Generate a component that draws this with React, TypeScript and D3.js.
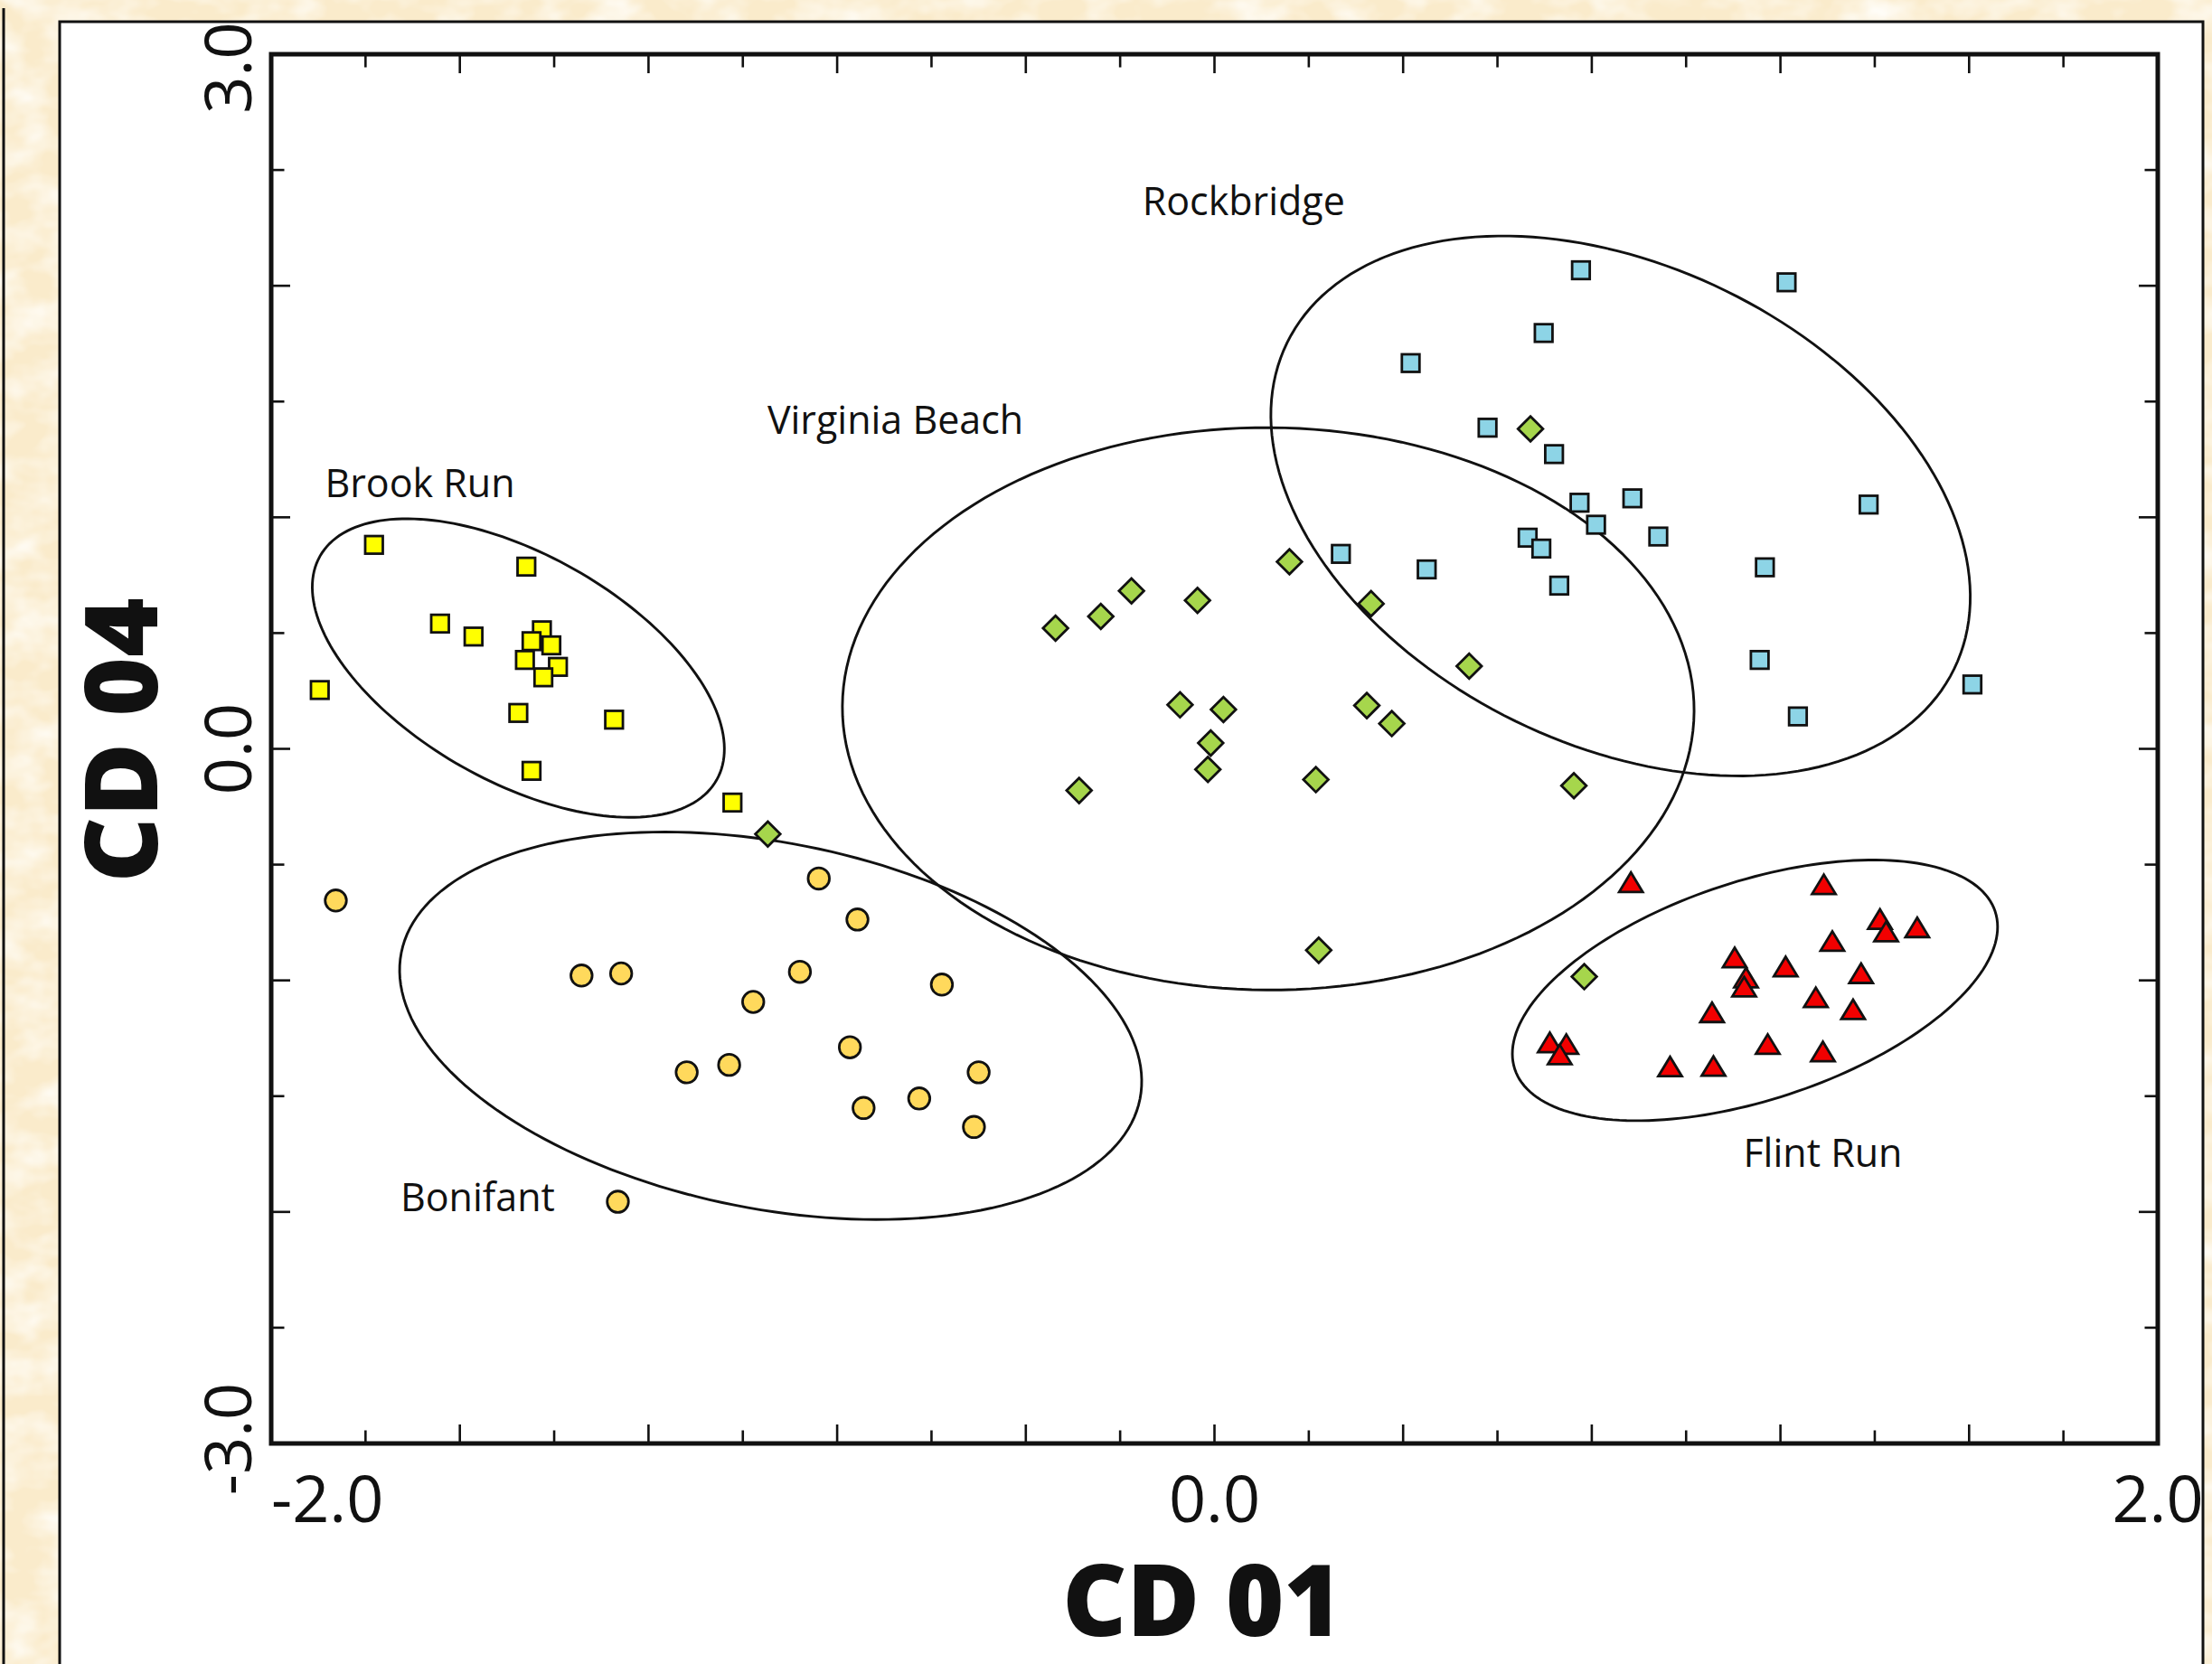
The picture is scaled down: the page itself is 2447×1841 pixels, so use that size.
import React from 'react';
import * as d3 from 'd3';

const W = 2447;
const H = 1841;

// Discriminant function scores [CD 01, CD 04] for each site
const brookRun: [number, number][] = [
  [-1.782, 0.881], [-1.459, 0.787], [-1.642, 0.541], [-1.571, 0.485],
  [-1.426, 0.512], [-1.448, 0.465], [-1.406, 0.447], [-1.462, 0.384],
  [-1.392, 0.354], [-1.423, 0.309], [-1.897, 0.254], [-1.476, 0.155],
  [-1.273, 0.126], [-1.448, -0.095], [-1.022, -0.232],
];

const bonifant: [number, number][] = [
  [-1.863, -0.655], [-0.839, -0.560], [-0.757, -0.737], [-1.342, -0.979],
  [-1.258, -0.970], [-0.879, -0.963], [-0.978, -1.093], [-0.578, -1.018],
  [-0.773, -1.289], [-1.119, -1.397], [-1.029, -1.365], [-0.500, -1.397],
  [-0.626, -1.510], [-0.744, -1.551], [-0.510, -1.633], [-1.265, -1.956],
];

const virginiaBeach: [number, number][] = [
  [0.670, 1.382], [0.159, 0.808], [0.332, 0.627], [0.540, 0.357],
  [0.323, 0.187], [0.376, 0.109], [0.215, -0.133], [0.762, -0.159],
  [-0.176, 0.682], [-0.036, 0.641], [-0.241, 0.572], [-0.337, 0.521],
  [-0.073, 0.190], [0.019, 0.170], [-0.008, 0.025], [-0.014, -0.089],
  [-0.287, -0.180], [0.221, -0.870], [0.784, -0.984], [-0.947, -0.368],
];

const rockbridge: [number, number][] = [
  [0.777, 2.067], [1.213, 2.015], [0.698, 1.796], [0.416, 1.666],
  [0.579, 1.387], [0.720, 1.273], [0.774, 1.063], [0.886, 1.082],
  [1.387, 1.055], [0.809, 0.968], [0.664, 0.912], [0.693, 0.865],
  [0.941, 0.917], [0.268, 0.842], [0.450, 0.775], [0.731, 0.705],
  [1.167, 0.784], [1.156, 0.384], [1.607, 0.278], [1.237, 0.140],
];

const flintRun: [number, number][] = [
  [0.883, -0.576], [1.292, -0.585], [1.411, -0.735], [1.424, -0.789],
  [1.490, -0.771], [1.310, -0.830], [1.103, -0.901], [1.211, -0.940],
  [1.371, -0.969], [1.127, -0.988], [1.123, -1.027], [1.275, -1.073],
  [1.354, -1.125], [1.055, -1.138], [1.173, -1.275], [1.290, -1.307],
  [0.711, -1.268], [0.746, -1.275], [0.732, -1.320], [0.966, -1.372],
  [1.058, -1.370],
];

// Group ellipses: centre and two conjugate semi-axes, in score units
const ellipses = [
  { site: 'Brook Run', center: [-1.476, 0.349], axis1: [0.4206, -0.4830], axis2: [-0.1181, -0.4272] },
  { site: 'Bonifant', center: [-0.941, -1.196], axis1: [0.7831, -0.3157], axis2: [-0.0753, -0.7751] },
  { site: 'Virginia Beach', center: [0.114, 0.173], axis1: [0.9029, -0.0112], axis2: [-0.0036, -1.2144] },
  { site: 'Rockbridge', center: [0.861, 1.049], axis1: [0.7072, -0.7042], axis2: [-0.2228, -0.9294] },
  { site: 'Flint Run', center: [1.146, -1.043], axis1: [0.5093, 0.3402], axis2: [0.0722, -0.4486] },
];

const siteLabels = [
  { text: 'Rockbridge', x: -0.153, y: 2.307 },
  { text: 'Virginia Beach', x: -0.948, y: 1.360 },
  { text: 'Brook Run', x: -1.886, y: 1.087 },
  { text: 'Bonifant', x: -1.726, y: -1.995 },
  { text: 'Flint Run', x: 1.121, y: -1.804 },
];

const xTickLabels = [-2.0, 0.0, 2.0];
const yTickLabels = [-3.0, 0.0, 3.0];

const siteStyle: Record<string, { shape: string; fill: string }> = {
  'Brook Run': { shape: 'square', fill: '#FFFF00' },
  'Bonifant': { shape: 'circle', fill: '#FFD95C' },
  'Virginia Beach': { shape: 'diamond', fill: '#A6D64C' },
  'Rockbridge': { shape: 'square', fill: '#8DD4E6' },
  'Flint Run': { shape: 'triangle', fill: '#F20000' },
};

const FONT = "'Open Sans', 'Noto Sans', sans-serif";

const margin = { left: 300, right: 2387, top: 60, bottom: 1597 };

const xScale = d3.scaleLinear().domain([-2, 2]).range([margin.left, margin.right]);
const yScale = d3.scaleLinear().domain([-3, 3]).range([margin.bottom, margin.top]);

const Marker = ({ shape, fill, cx, cy }: { shape: string; fill: string; cx: number; cy: number }) => {
  const common = { fill, stroke: '#111', strokeWidth: 2.8, strokeLinejoin: 'miter' as const };
  if (shape === 'square') {
    const s = 19.5;
    return <rect x={cx - s / 2} y={cy - s / 2} width={s} height={s} {...common} />;
  }
  if (shape === 'circle') {
    return <circle cx={cx} cy={cy} r={11.8} {...common} />;
  }
  if (shape === 'diamond') {
    const r = 13.8;
    return <path d={`M${cx},${cy - r}L${cx + r},${cy}L${cx},${cy + r}L${cx - r},${cy}Z`} {...common} />;
  }
  // triangle
  const w = 26, h = 21.5;
  return <path d={`M${cx},${cy - h / 2}L${cx + w / 2},${cy + h / 2}L${cx - w / 2},${cy + h / 2}Z`} {...common} />;
};

const ellipsePath = (e: typeof ellipses[number]) => {
  const pts = d3.range(0, 360, 2).map(deg => {
    const t = (deg * Math.PI) / 180;
    return [
      e.center[0] + e.axis1[0] * Math.cos(t) + e.axis2[0] * Math.sin(t),
      e.center[1] + e.axis1[1] * Math.cos(t) + e.axis2[1] * Math.sin(t),
    ];
  });
  return d3.line<number[]>()
    .x(d => xScale(d[0]))
    .y(d => yScale(d[1]))
    .curve(d3.curveLinearClosed)(pts) || '';
};

const App = () => {
  const series: { site: string; points: [number, number][] }[] = [
    { site: 'Virginia Beach', points: virginiaBeach },
    { site: 'Rockbridge', points: rockbridge },
    { site: 'Bonifant', points: bonifant },
    { site: 'Brook Run', points: brookRun },
    { site: 'Flint Run', points: flintRun },
  ];

  const xMinor = d3.range(0, 21).map(i => ({ v: -2 + i * 0.2, major: i % 2 === 0 }));
  const yMinor = d3.range(0, 13).map(i => ({ v: -3 + i * 0.5, major: i % 2 === 0 }));
  const tickLen = (major: boolean) => (major ? 21 : 14.5);

  return (
    <div style={{ position: 'absolute', left: 0, top: 0 }}>
      <svg width={W} height={H} style={{ display: 'block' }}>
        <defs>
          <filter id="parchment" x="0" y="0" width="100%" height="100%">
            <feTurbulence type="fractalNoise" baseFrequency="0.02 0.03" numOctaves={3} seed={7} result="noise" />
            <feColorMatrix
              in="noise"
              type="matrix"
              values="0 0 0 0 1  0 0 0 0 0.98  0 0 0 0 0.93  0 0 0 1.8 -0.65"
            />
          </filter>
        </defs>

        {/* page background */}
        <rect x={0} y={0} width={W} height={H} fill="#FAEBCB" />
        <rect x={0} y={0} width={W} height={H} filter="url(#parchment)" />
        <line x1={4} x2={4} y1={9} y2={H} stroke="#111" strokeWidth={3} />

        {/* white panel */}
        <rect x={66} y={24} width={2437 - 66} height={H} fill="#fff" stroke="#111" strokeWidth={3} />

        {/* ellipses */}
        {ellipses.map(e => (
          <path key={e.site} d={ellipsePath(e)} fill="none" stroke="#111" strokeWidth={2.9} />
        ))}

        {/* points */}
        {series.map(s => (
          <g key={s.site}>
            {s.points.map((p, i) => (
              <Marker key={i} shape={siteStyle[s.site].shape} fill={siteStyle[s.site].fill} cx={xScale(p[0])} cy={yScale(p[1])} />
            ))}
          </g>
        ))}

        {/* site labels */}
        {siteLabels.map(l => (
          <text key={l.text} x={xScale(l.x)} y={yScale(l.y)} fontFamily={FONT} fontSize={43} fill="#111">
            {l.text}
          </text>
        ))}

        {/* ticks, all pointing inwards */}
        {xMinor.map(t => (
          <g key={'x' + t.v} stroke="#111" strokeWidth={2.6}>
            <line x1={xScale(t.v)} x2={xScale(t.v)} y1={margin.bottom} y2={margin.bottom - tickLen(t.major)} />
            <line x1={xScale(t.v)} x2={xScale(t.v)} y1={margin.top} y2={margin.top + tickLen(t.major)} />
          </g>
        ))}
        {yMinor.map(t => (
          <g key={'y' + t.v} stroke="#111" strokeWidth={2.6}>
            <line x1={margin.left} x2={margin.left + tickLen(t.major)} y1={yScale(t.v)} y2={yScale(t.v)} />
            <line x1={margin.right} x2={margin.right - tickLen(t.major)} y1={yScale(t.v)} y2={yScale(t.v)} />
          </g>
        ))}

        {/* frame */}
        <rect
          x={margin.left}
          y={margin.top}
          width={margin.right - margin.left}
          height={margin.bottom - margin.top}
          fill="none"
          stroke="#111"
          strokeWidth={5}
        />

        {/* tick labels */}
        {xTickLabels.map(v => (
          <text
            key={'xl' + v}
            x={xScale(v)}
            y={1684}
            textAnchor={v === -2 ? 'start' : 'middle'}
            fontFamily={FONT}
            fontSize={72}
            fill="#111"
          >
            {v.toFixed(1)}
          </text>
        ))}
        {yTickLabels.map(v => (
          <text
            key={'yl' + v}
            transform={`translate(278, ${yScale(v) + (v === 3 ? 15 : v === -3 ? -5 : 0)}) rotate(-90)`}
            textAnchor="middle"
            fontFamily={FONT}
            fontSize={72}
            fill="#111"
          >
            {v.toFixed(1)}
          </text>
        ))}

        {/* axis titles */}
        <text x={1330} y={1810} textAnchor="middle" fontFamily={FONT} fontWeight={800} fontSize={110} fill="#111">
          CD 01
        </text>
        <text
          transform="translate(174, 819) rotate(-90)"
          textAnchor="middle"
          fontFamily={FONT}
          fontWeight={800}
          fontSize={112}
          fill="#111"
        >
          CD 04
        </text>
      </svg>
    </div>
  );
};

export default App;
